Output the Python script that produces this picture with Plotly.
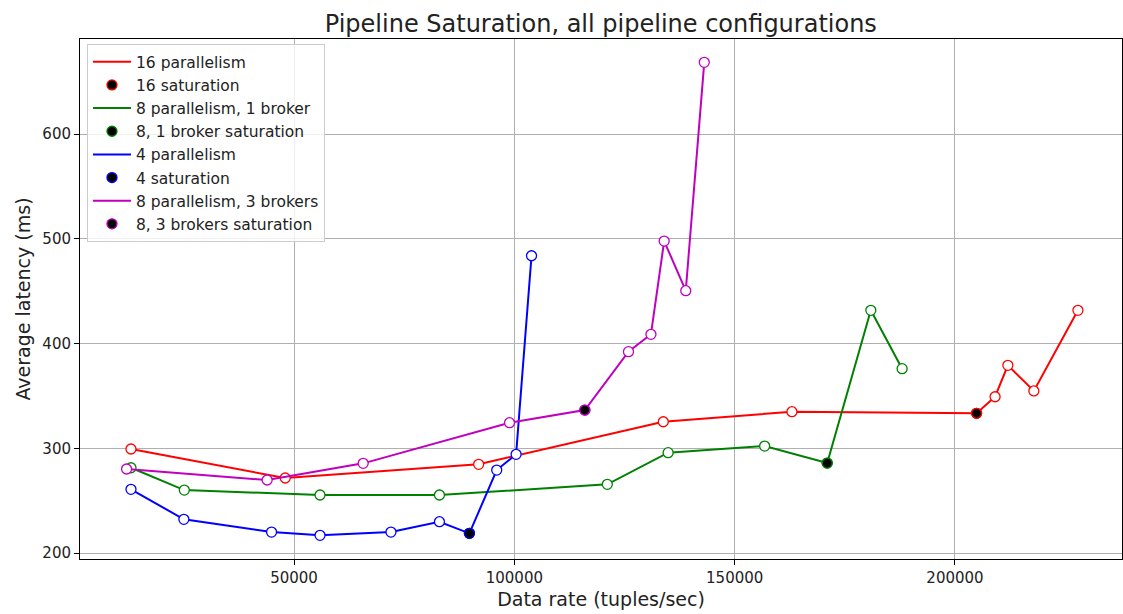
import plotly.graph_objects as go

# ---- data ----
x16 = [13000, 48000, 91900, 133800, 163000, 204900, 209100, 212000, 217900, 227900]
y16 = [299.3, 271.6, 284.7, 325.3, 334.9, 333.4, 349.2, 379.2, 354.7, 431.7]
sat16 = 5

x8_1 = [13000, 25100, 55900, 83000, 121100, 134900, 156800, 171000, 180900, 188000]
y8_1 = [281.4, 260.1, 255.4, 255.4, 265.6, 295.8, 302.1, 285.9, 431.7, 376.0]
sat8_1 = 7

x4 = [13000, 25000, 44900, 55900, 72000, 83000, 89800, 96000, 100400, 103900]
y4 = [260.8, 232.2, 220.0, 216.9, 220.0, 229.9, 218.8, 279.2, 294.2, 483.8]
sat4 = 6

x8_3 = [12000, 43900, 65700, 98900, 116000, 125900, 131000, 134000, 138900, 143100]
y8_3 = [280.2, 269.7, 285.6, 324.4, 336.5, 392.2, 408.8, 497.8, 450.4, 668.4]
sat8_3 = 4

series = [
    ("16 parallelism", "16 saturation", x16, y16, sat16, "#ff0000"),
    ("8 parallelism, 1 broker", "8, 1 broker saturation", x8_1, y8_1, sat8_1, "#008000"),
    ("4 parallelism", "4 saturation", x4, y4, sat4, "#0000ff"),
    ("8 parallelism, 3 brokers", "8, 3 brokers saturation", x8_3, y8_3, sat8_3, "#bf00bf"),
]

FONT = "DejaVu Sans"
fig = go.Figure()
for lname, sname, xs, ys, si, col in series:
    fig.add_trace(go.Scatter(x=xs, y=ys, mode="lines", name=lname,
                             line=dict(color=col, width=2)))
    fig.add_trace(go.Scatter(x=xs, y=ys, mode="markers", showlegend=False,
                             marker=dict(symbol="circle", size=10, color="white",
                                         line=dict(color=col, width=1.3))))
    fig.add_trace(go.Scatter(x=[xs[si]], y=[ys[si]], mode="markers", name=sname,
                             marker=dict(symbol="circle", size=10, color="black",
                                         line=dict(color=col, width=1.3))))

axis_common = dict(showline=True, linecolor="black", linewidth=1, mirror=True,
                   ticks="outside", ticklen=5, tickcolor="black",
                   showgrid=True, gridcolor="#b0b0b0", gridwidth=1,
                   zeroline=False, tickfont=dict(family=FONT, size=15, color="#222222"))

fig.update_layout(
    width=1123, height=614,
    margin=dict(l=80, r=1, t=39, b=55),
    paper_bgcolor="white", plot_bgcolor="white",
    font=dict(family=FONT, color="black"),
    title=dict(text="Pipeline Saturation, all pipeline configurations",
               x=0.535, xanchor="center", y=0.962, yanchor="middle",
               font=dict(family=FONT, size=24, color="#222222")),
    xaxis=dict(range=[1430, 237900], tickvals=[50000, 100000, 150000, 200000],
               ticktext=["50000", "100000", "150000", "200000"],
               title=dict(text="Data rate (tuples/sec)", font=dict(family=FONT, size=19, color="#222222"), standoff=6),
               **axis_common),
    yaxis=dict(range=[194.3, 690.7], tickvals=[200, 300, 400, 500, 600],
               title=dict(text="Average latency (ms)", font=dict(family=FONT, size=19, color="#222222"), standoff=6),
               **axis_common),
    legend=dict(x=0.0067, y=0.99, xanchor="left", yanchor="top",
                bgcolor="rgba(255,255,255,0.8)", bordercolor="#cccccc", borderwidth=1,
                font=dict(family=FONT, size=15.5, color="#222222"), tracegroupgap=0,
                itemwidth=38),
    showlegend=True,
)

fig.write_html("out.html")
